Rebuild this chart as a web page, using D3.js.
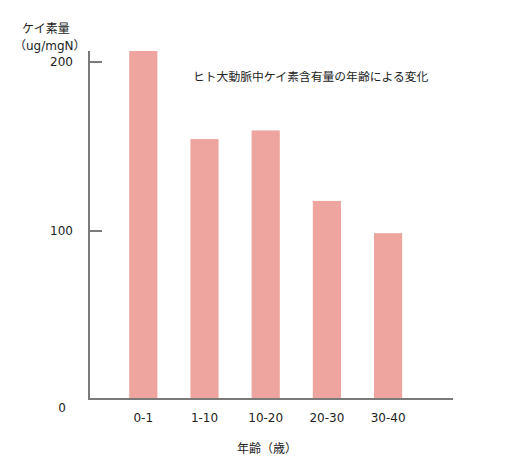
<!DOCTYPE html>
<html>
<head>
<meta charset="utf-8">
<script src="https://cdn.jsdelivr.net/npm/d3@7"></script>
<style>
  body { margin: 0; background: #fff; }
  text { font-family: "DejaVu Sans", "Noto Sans CJK JP", sans-serif; fill: #222; }
</style>
</head>
<body>
<div id="chart"></div>
<script>
// data
const ageGroups = ['0-1', '1-10', '10-20', '20-30', '30-40'];
const siliconContent = [206.5, 154.4, 159.5, 117.8, 98.7];
const yTicks = [0, 100, 200];
const chartTitle = 'ヒト大動脈中ケイ素含有量の年齢による変化';
const yTitle = ['ケイ素量', '（ug/mgN）'];
const xTitle = '年齢（歳）';

const width = 532, height = 467;
const barColor = '#eea49f';
const axisColor = '#7a7a7a';

const svg = d3.select('#chart')
  .append('svg')
  .attr('width', width)
  .attr('height', height);

const x = d3.scaleBand()
  .domain(ageGroups)
  .range([112.7, 418.7])
  .paddingInner(0.54)
  .paddingOuter(0.27);

const y = d3.scaleLinear()
  .domain([0, 200])
  .range([400, 62]);

// bars
svg.selectAll('.bar')
  .data(ageGroups)
  .enter()
  .append('rect')
  .attr('class', 'bar')
  .attr('x', d => x(d))
  .attr('width', x.bandwidth())
  .attr('y', (d, i) => y(siliconContent[i]))
  .attr('height', (d, i) => y(0) - y(siliconContent[i]))
  .attr('fill', barColor);

// axes lines
svg.append('line')
  .attr('x1', 89).attr('x2', 89)
  .attr('y1', 51).attr('y2', y(0))
  .attr('stroke', axisColor).attr('stroke-width', 2);

svg.append('line')
  .attr('x1', 88).attr('x2', 453)
  .attr('y1', y(0) - 1).attr('y2', y(0) - 1)
  .attr('stroke', axisColor).attr('stroke-width', 2);

// y ticks (pointing inward), none at zero
svg.selectAll('.ytick')
  .data(yTicks.filter(v => v > 0))
  .enter()
  .append('line')
  .attr('class', 'ytick')
  .attr('x1', 89).attr('x2', 102)
  .attr('y1', d => y(d)).attr('y2', d => y(d))
  .attr('stroke', axisColor).attr('stroke-width', 2);

svg.selectAll('.ylabel')
  .data(yTicks)
  .enter()
  .append('text')
  .attr('class', 'ylabel')
  .attr('x', d => d === 0 ? 66 : 73)
  .attr('y', d => d === 0 ? y(d) + 12 : y(d) + 4)
  .attr('text-anchor', 'end')
  .style('font-size', '12px')
  .text(d => d);

// x tick labels
svg.selectAll('.xlabel')
  .data(ageGroups)
  .enter()
  .append('text')
  .attr('class', 'xlabel')
  .attr('x', d => x(d) + x.bandwidth() / 2)
  .attr('y', 422)
  .attr('text-anchor', 'middle')
  .style('font-size', '12px')
  .text(d => d);

// titles
svg.selectAll('.ytitle')
  .data(yTitle)
  .enter()
  .append('text')
  .attr('class', 'ytitle')
  .attr('x', (d, i) => i === 0 ? 22 : 14)
  .attr('y', (d, i) => 33 + i * 17)
  .style('font-size', '12px')
  .text(d => d);

svg.append('text')
  .attr('x', 267)
  .attr('y', 453)
  .attr('text-anchor', 'middle')
  .style('font-size', '12px')
  .text(xTitle);

svg.append('text')
  .attr('x', 193)
  .attr('y', 81)
  .style('font-size', '11.8px')
  .text(chartTitle);
</script>
</body>
</html>
